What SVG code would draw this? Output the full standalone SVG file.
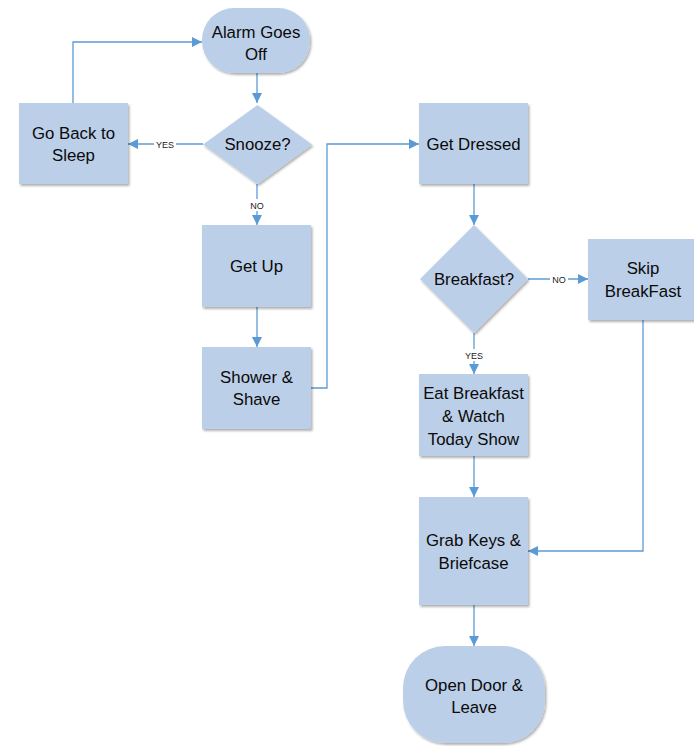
<svg xmlns="http://www.w3.org/2000/svg" width="694" height="746" viewBox="0 0 694 746">
  <defs>
    <filter id="shadow" x="-10%" y="-10%" width="125%" height="125%">
      <feDropShadow dx="1.5" dy="2" stdDeviation="1.2" flood-color="#000" flood-opacity="0.3"/>
    </filter>
    <marker id="arrow" viewBox="0 0 10 10" refX="10" refY="5" markerWidth="10" markerHeight="10" markerUnits="userSpaceOnUse" orient="auto">
      <path d="M0,0 L10,5 L0,10 z" fill="#5B9BD5"/>
    </marker>
  </defs>
  <style>
    .shape { fill: #BCCFE8; filter: url(#shadow); }
    .label { font-family: "Liberation Sans", Arial, sans-serif; font-size: 16.8px; fill: #0a0a0a; text-anchor: middle; }
    .edge { fill: none; stroke: #5B9BD5; stroke-width: 1.3; }
    .tag { font-family: "Liberation Sans", Arial, sans-serif; font-size: 9px; fill: #222; text-anchor: middle; }
    .tagbg { fill: #fff; }
  </style>
  <rect width="694" height="746" fill="#fff"/>

  <!-- connectors -->
  <g id="connectors">
    <path class="edge" d="M257,73 V103" marker-end="url(#arrow)"/>
    <path class="edge" d="M203,144 H128" marker-end="url(#arrow)"/>
    <path class="edge" d="M73,103 V42 H202" marker-end="url(#arrow)"/>
    <path class="edge" d="M257,184 V225" marker-end="url(#arrow)"/>
    <path class="edge" d="M257,307 V347" marker-end="url(#arrow)"/>
    <path class="edge" d="M311,388 H327 V144 H419" marker-end="url(#arrow)"/>
    <path class="edge" d="M474,184 V225" marker-end="url(#arrow)"/>
    <path class="edge" d="M528,279 H588" marker-end="url(#arrow)"/>
    <path class="edge" d="M474,333 V374" marker-end="url(#arrow)"/>
    <path class="edge" d="M643,320 V551 H528" marker-end="url(#arrow)"/>
    <path class="edge" d="M474,456 V497" marker-end="url(#arrow)"/>
    <path class="edge" d="M474,605 V646" marker-end="url(#arrow)"/>
    <!-- edge labels -->
    <rect class="tagbg" x="154" y="138" width="22" height="12"/>
    <text class="tag" x="165" y="147.5">YES</text>
    <rect class="tagbg" x="248" y="199" width="18" height="12"/>
    <text class="tag" x="257" y="208.5">NO</text>
    <rect class="tagbg" x="550" y="273" width="18" height="12"/>
    <text class="tag" x="559" y="282.5">NO</text>
    <rect class="tagbg" x="463" y="349" width="22" height="12"/>
    <text class="tag" x="474" y="358.5">YES</text>
  </g>

  <g id="alarm">
    <rect class="shape" x="202" y="8" width="108" height="65" rx="32" ry="32"/>
    <text class="label" x="256" y="38">Alarm Goes</text>
    <text class="label" x="256" y="60">Off</text>
  </g>
  <g id="snooze">
    <polygon class="shape" points="257.5,105 312,144.5 257.5,184 203,144.5"/>
    <text class="label" x="257.5" y="150">Snooze?</text>
  </g>
  <g id="back-to-sleep">
    <rect class="shape" x="19" y="103" width="109" height="81"/>
    <text class="label" x="73.5" y="139">Go Back to</text>
    <text class="label" x="73.5" y="161">Sleep</text>
  </g>
  <g id="get-up">
    <rect class="shape" x="202" y="225" width="109" height="82"/>
    <text class="label" x="256.5" y="272">Get Up</text>
  </g>
  <g id="shower">
    <rect class="shape" x="202" y="347" width="109" height="82"/>
    <text class="label" x="256.5" y="383">Shower &amp;</text>
    <text class="label" x="256.5" y="405">Shave</text>
  </g>
  <g id="get-dressed">
    <rect class="shape" x="419" y="103" width="109" height="81"/>
    <text class="label" x="473.5" y="150">Get Dressed</text>
  </g>
  <g id="breakfast">
    <polygon class="shape" points="474,225 528,279 474,333 420,279"/>
    <text class="label" x="474" y="285">Breakfast?</text>
  </g>
  <g id="skip-breakfast">
    <rect class="shape" x="588" y="239" width="110" height="81"/>
    <text class="label" x="643" y="274">Skip</text>
    <text class="label" x="643" y="297">BreakFast</text>
  </g>
  <g id="eat-breakfast">
    <rect class="shape" x="419" y="374" width="109" height="82"/>
    <text class="label" x="473.5" y="399">Eat Breakfast</text>
    <text class="label" x="473.5" y="422">&amp; Watch</text>
    <text class="label" x="473.5" y="445">Today Show</text>
  </g>
  <g id="grab-keys">
    <rect class="shape" x="419" y="497" width="109" height="108"/>
    <text class="label" x="473.5" y="546">Grab Keys &amp;</text>
    <text class="label" x="473.5" y="569">Briefcase</text>
  </g>
  <g id="open-door">
    <rect class="shape" x="403" y="646" width="142" height="97" rx="42" ry="42"/>
    <text class="label" x="474" y="691">Open Door &amp;</text>
    <text class="label" x="474" y="713">Leave</text>
  </g>
</svg>
